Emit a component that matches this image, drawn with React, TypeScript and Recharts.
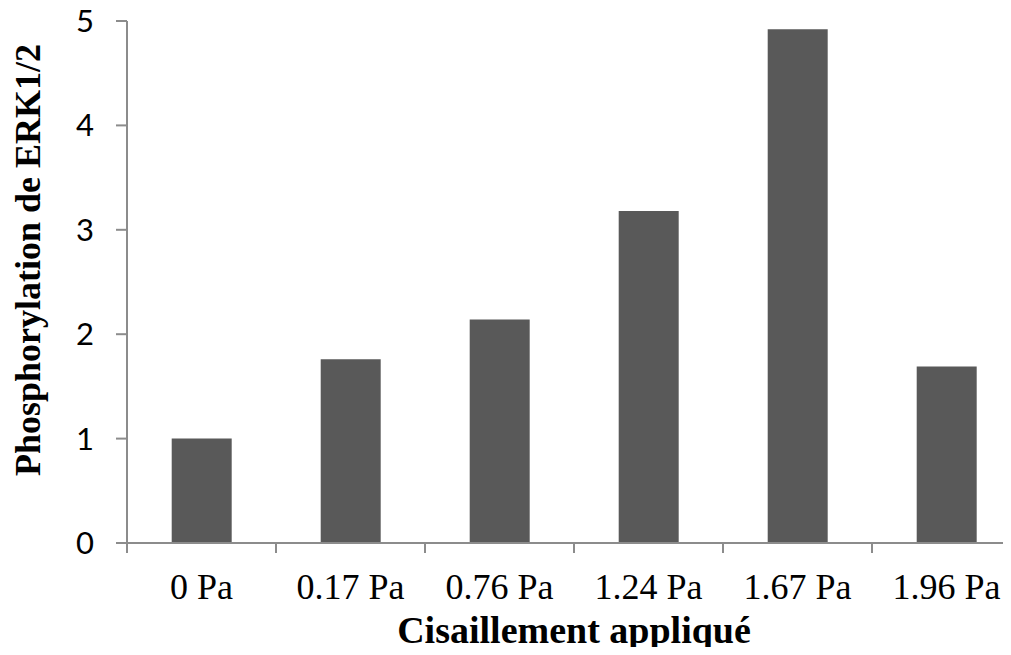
import { BarChart, Bar, XAxis, YAxis } from "recharts";

// Shear stress categories and ERK1/2 phosphorylation (fold change)
const categories = ["0 Pa", "0.17 Pa", "0.76 Pa", "1.24 Pa", "1.67 Pa", "1.96 Pa"];
const phospho = [1.0, 1.76, 2.14, 3.18, 4.92, 1.69];
const yTicks = [0, 1, 2, 3, 4, 5];

const data = categories.map((name, i) => ({ name, value: phospho[i] }));

const axisColor = "#8c8c8c";
const serif = "'Liberation Serif', 'Times New Roman', serif";

const W = 1030;
const H = 655;
const M = { top: 21, right: 9, left: 0, bottom: 0 };
const Y_AXIS_W = 127;
const X_AXIS_H = 112;
const band = (W - M.left - M.right - Y_AXIS_W) / categories.length;
const axisY = H - M.bottom - X_AXIS_H;

// category label + Excel-style tick mark on the left edge of each band
const CategoryTick = (props: any) => {
  const { x, payload, index } = props;
  const left = x - band / 2;
  const right = x + band / 2;
  return (
    <g>
      <line x1={left} x2={left} y1={axisY} y2={axisY + 10} stroke={axisColor} strokeWidth={2} />
      {index === categories.length - 1 && (
        <line x1={right} x2={right} y1={axisY} y2={axisY + 10} stroke={axisColor} strokeWidth={2} />
      )}
      <text x={x} y={axisY + 56} textAnchor="middle" fill="#000" fontFamily={serif} fontSize={36}>
        {payload.value}
      </text>
    </g>
  );
};

export default function App() {
  return (
    <div style={{ margin: -8, width: 1011, height: 655, overflow: "hidden", background: "#fff" }}>
      <BarChart width={W} height={H} data={data} margin={M} barCategoryGap="30%">
        <XAxis
          dataKey="name"
          height={X_AXIS_H}
          axisLine={{ stroke: axisColor, strokeWidth: 2 }}
          tickLine={false}
          interval={0}
          tick={<CategoryTick />}
          label={(props: any) => {
            const vb = props.viewBox;
            return (
              <text
                x={vb.x + vb.width / 2}
                y={643}
                textAnchor="middle"
                fill="#000"
                fontFamily={serif}
                fontWeight="bold"
                fontSize={38}
              >
                Cisaillement appliqué
              </text>
            );
          }}
        />
        <YAxis
          width={Y_AXIS_W}
          domain={[0, 5]}
          ticks={yTicks}
          interval={0}
          stroke={axisColor}
          strokeWidth={2}
          tickSize={11}
          tickMargin={22}
          tick={{ fill: "#000", fontSize: 31, fontFamily: "Lato, 'Open Sans', sans-serif" }}
          label={() => (
            <text
              transform="translate(28,260) rotate(-90)"
              textAnchor="middle"
              dominantBaseline="central"
              fill="#000"
              fontFamily={serif}
              fontWeight="bold"
              fontSize={36}
            >
              Phosphorylation de ERK1/2
            </text>
          )}
        />
        <Bar dataKey="value" fill="#595959" isAnimationActive={false} />
      </BarChart>
    </div>
  );
}
